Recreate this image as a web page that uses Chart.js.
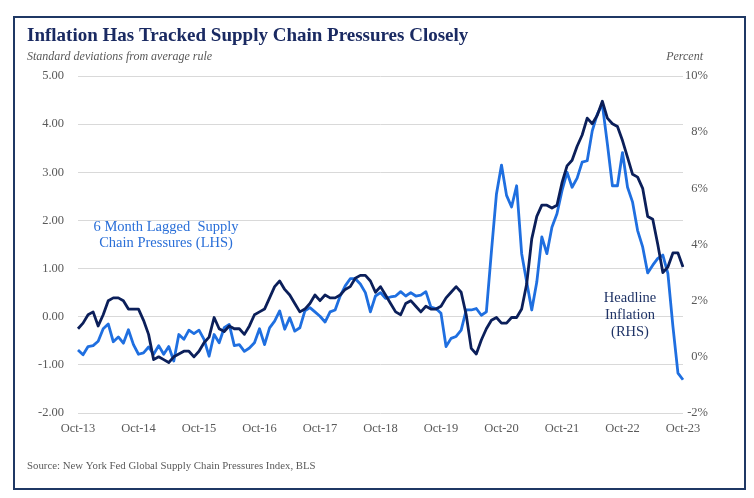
<!DOCTYPE html>
<html>
<head>
<meta charset="utf-8">
<title>Inflation Has Tracked Supply Chain Pressures Closely</title>
<script src="https://cdn.jsdelivr.net/npm/chart.js@4.4.0/dist/chart.umd.min.js"></script>
<style>
  html, body { margin: 0; padding: 0; background: #fff; }
</style>
</head>
<body>
<canvas id="chart" width="754" height="498"></canvas>
<script>
// month categories, Oct-13 .. Oct-23
const MONTH_NAMES = ['Jan', 'Feb', 'Mar', 'Apr', 'May', 'Jun', 'Jul', 'Aug', 'Sep', 'Oct', 'Nov', 'Dec'];
const months = [];
for (let i = 0; i < 121; i++) {
  const m = (9 + i) % 12;
  const y = 13 + Math.floor((9 + i) / 12);
  months.push(MONTH_NAMES[m] + '-' + y);
}

// Headline CPI inflation, y/y % (RHS)
const headlineInflation = [
  1.0, 1.2, 1.5,
  1.6, 1.1, 1.5, 2.0, 2.1, 2.1, 2.0, 1.7, 1.7, 1.7, 1.3, 0.8,
  -0.1, 0.0, -0.1, -0.2, 0.0, 0.1, 0.2, 0.2, 0.0, 0.2, 0.5, 0.7,
  1.4, 1.0, 0.9, 1.1, 1.0, 1.0, 0.8, 1.1, 1.5, 1.6, 1.7, 2.1,
  2.5, 2.7, 2.4, 2.2, 1.9, 1.6, 1.7, 1.9, 2.2, 2.0, 2.2, 2.1,
  2.1, 2.2, 2.4, 2.5, 2.8, 2.9, 2.9, 2.7, 2.3, 2.5, 2.2, 1.9,
  1.6, 1.5, 1.9, 2.0, 1.8, 1.6, 1.8, 1.7, 1.7, 1.8, 2.1, 2.3,
  2.5, 2.3, 1.5, 0.3, 0.1, 0.6, 1.0, 1.3, 1.4, 1.2, 1.2, 1.4,
  1.4, 1.7, 2.6, 4.2, 5.0, 5.4, 5.4, 5.3, 5.4, 6.2, 6.8, 7.0,
  7.5, 7.9, 8.5, 8.3, 8.6, 9.1, 8.5, 8.3, 8.2, 7.7, 7.1, 6.5,
  6.4, 6.0, 5.0, 4.9, 4.0, 3.0, 3.2, 3.7, 3.7, 3.2
];

// Supply chain pressures, lagged 6 months, std devs (LHS)
const supplyPressures = [
  -0.69, -0.79, -0.62, -0.60, -0.51, -0.25, -0.15, -0.52, -0.42, -0.55, -0.27, -0.58,
  -0.78, -0.75, -0.63, -0.78, -0.60, -0.78, -0.62, -0.92, -0.37, -0.47, -0.28, -0.35,
  -0.28, -0.47, -0.82, -0.37, -0.54, -0.23, -0.16, -0.60, -0.58, -0.72, -0.65, -0.54,
  -0.25, -0.58, -0.23, -0.09, 0.12, -0.26, -0.02, -0.30, -0.23, 0.12, 0.19, 0.10,
  0.01, -0.11, 0.10, 0.14, 0.43, 0.64, 0.79, 0.79, 0.68, 0.50, 0.10, 0.43,
  0.50, 0.38, 0.41, 0.43, 0.52, 0.43, 0.50, 0.43, 0.45, 0.52, 0.20, 0.17,
  0.07, -0.62, -0.45, -0.41, -0.28, 0.14, 0.14, 0.17, 0.03, 0.10, 1.35, 2.55,
  3.15, 2.52, 2.28, 2.72, 1.31, 0.72, 0.14, 0.72, 1.66, 1.31, 1.86, 2.14,
  2.62, 3.00, 2.69, 2.88, 3.21, 3.24, 3.86, 4.21, 4.41, 3.59, 2.72, 2.72,
  3.41, 2.69, 2.38, 1.79, 1.45, 0.91, 1.07, 1.21, 1.28, 0.90, -0.20, -1.17,
  -1.31
];

const FONT = "'Liberation Serif', 'Times New Roman', serif";
const NAVY = '#0b1f5a';
const BLUE = '#1f6fe0';
const GREY = '#595959';

const framePlugin = {
  id: 'frame',
  beforeDraw(chart) {
    const ctx = chart.ctx;
    ctx.save();
    ctx.fillStyle = '#ffffff';
    ctx.fillRect(0, 0, chart.width, chart.height);
    ctx.strokeStyle = '#1f3864';
    ctx.lineWidth = 2;
    ctx.strokeRect(14, 17, 731, 472);
    ctx.restore();
  },
  afterDraw(chart) {
    const ctx = chart.ctx;
    ctx.save();
    ctx.textBaseline = 'alphabetic';

    // title
    ctx.fillStyle = '#1a2a62';
    ctx.font = 'bold 19px ' + FONT;
    ctx.textAlign = 'left';
    ctx.fillText('Inflation Has Tracked Supply Chain Pressures Closely', 27, 41);

    // axis titles
    ctx.fillStyle = GREY;
    ctx.font = 'italic 12px ' + FONT;
    ctx.fillText('Standard deviations from average rule', 27, 60);
    ctx.textAlign = 'right';
    ctx.fillText('Percent', 703, 60);

    // source
    ctx.textAlign = 'left';
    ctx.font = '10.8px ' + FONT;
    ctx.fillText('Source: New York Fed Global Supply Chain Pressures Index, BLS', 27, 469);

    // series labels
    ctx.textAlign = 'center';
    ctx.font = '14.5px ' + FONT;
    ctx.fillStyle = '#2a6fd8';
    ctx.fillText('6 Month Lagged  Supply', 166, 231);
    ctx.fillText('Chain Pressures (LHS)', 166, 247);

    ctx.fillStyle = '#1f3366';
    ctx.fillText('Headline', 630, 302);
    ctx.fillText('Inflation', 630, 319);
    ctx.fillText('(RHS)', 630, 336);
    ctx.restore();
  }
};

new Chart(document.getElementById('chart'), {
  type: 'line',
  data: {
    labels: months,
    datasets: [
      {
        label: 'Headline Inflation (RHS)',
        data: headlineInflation,
        yAxisID: 'y1',
        borderColor: NAVY,
        borderWidth: 2.8,
        pointRadius: 0,
        tension: 0,
        borderJoinStyle: 'round'
      },
      {
        label: '6 Month Lagged Supply Chain Pressures (LHS)',
        data: supplyPressures,
        yAxisID: 'y',
        borderColor: BLUE,
        borderWidth: 2.8,
        pointRadius: 0,
        tension: 0,
        borderJoinStyle: 'round'
      }
    ]
  },
  options: {
    responsive: false,
    animation: false,
    layout: { padding: { left: 0, right: 46, top: 76, bottom: 0 } },
    plugins: {
      legend: { display: false },
      tooltip: { enabled: false },
      title: { display: false }
    },
    scales: {
      x: {
        type: 'category',
        offset: false,
        grid: { display: false },
        border: { display: false },
        ticks: {
          autoSkip: false,
          maxRotation: 0,
          minRotation: 0,
          padding: 0,
          color: GREY,
          font: { family: FONT, size: 12.5 },
          callback: function(value, index) {
            return index % 12 === 0 ? months[index] : '';
          }
        },
        afterFit: function(scale) { scale.height = 85; }
      },
      y: {
        position: 'left',
        min: -2,
        max: 5,
        grid: { color: '#d9d9d9', lineWidth: 1, drawTicks: false },
        border: { display: false },
        ticks: {
          stepSize: 1,
          padding: 14,
          color: GREY,
          font: { family: FONT, size: 12.5 },
          callback: function(value) { return value.toFixed(2); }
        },
        afterFit: function(scale) { scale.width = 78; }
      },
      y1: {
        position: 'right',
        min: -2,
        max: 10,
        grid: { display: false, drawTicks: false },
        border: { display: false },
        ticks: {
          stepSize: 2,
          padding: 4,
          crossAlign: 'far',
          color: GREY,
          font: { family: FONT, size: 12.5 },
          callback: function(value) { return value + '%'; }
        },
        afterFit: function(scale) { scale.width = 25; }
      }
    }
  },
  plugins: [framePlugin]
});
</script>
</body>
</html>
